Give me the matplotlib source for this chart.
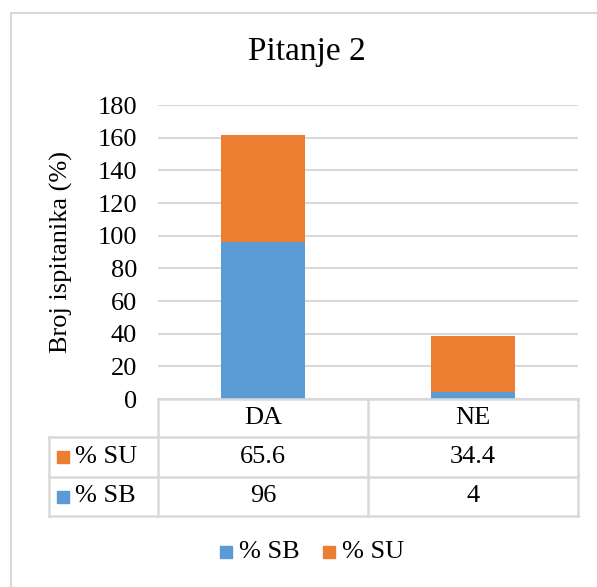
import matplotlib.pyplot as plt
import matplotlib.transforms as mtransforms
from matplotlib.lines import Line2D
from matplotlib.patches import Rectangle

categories = ["DA", "NE"]
series_names = ["% SB", "% SU"]
sb_values = [96, 4]
su_values = [65.6, 34.4]
sb_labels = ["96", "4"]
su_labels = ["65.6", "34.4"]
yticks = [0, 20, 40, 60, 80, 100, 120, 140, 160, 180]

blue = "#5B9BD5"
orange = "#ED7D31"
grid_col = "#D9D9D9"

W, H = 597, 587
plt.rcParams["font.family"] = ["Liberation Serif", "DejaVu Serif"]

fig = plt.figure(figsize=(W / 100, H / 100), dpi=100)


def fy(y):
    # pixel from top -> figure fraction
    return 1 - y / H


def fx(x):
    return x / W


# outer chart border (only left and top visible)
fig.add_artist(Line2D([fx(11), fx(11)], [fy(13), 0], color=grid_col, lw=1.5))
fig.add_artist(Line2D([fx(11), 1], [fy(13), fy(13)], color=grid_col, lw=1.5))

ax = fig.add_axes([fx(158), fy(399), fx(578) - fx(158), fy(105) - fy(399)])
x = range(len(categories))
ax.bar(x, sb_values, width=0.4, color=blue, zorder=3)
ax.bar(x, su_values, width=0.4, bottom=sb_values, color=orange, zorder=3)
ax.set_xlim(-0.5, len(categories) - 0.5)
ax.set_ylim(0, 180)
ax.set_yticks(yticks)
ax.tick_params(axis="y", length=0, labelsize=19, pad=15)
ax.set_xticks([])
ax.grid(axis="y", color=grid_col, lw=1.5, zorder=0)
for s in ax.spines.values():
    s.set_visible(False)
ax.set_ylabel("Broj ispitanika (%)", fontsize=19)
ax.yaxis.set_label_coords(-0.202, 0.5)

fig.text(fx(307), fy(52), "Pitanje 2", ha="center", va="center", fontsize=24)

# data table
trans = mtransforms.blended_transform_factory(ax.transData, fig.transFigure)
x_left = -0.5
x_right = len(categories) - 0.5
label_left = fx(49)
rows_y = [fy(399), fy(437), fy(477), fy(516)]
lw_t = 1.8

# horizontal lines
fig.add_artist(Line2D([x_left, x_right], [rows_y[0], rows_y[0]], transform=trans, color=grid_col, lw=lw_t))
for yy in rows_y[1:]:
    fig.add_artist(Line2D([label_left, fx(578)], [yy, yy], color=grid_col, lw=lw_t))
# vertical lines
fig.add_artist(Line2D([label_left, label_left], [rows_y[1], rows_y[3]], color=grid_col, lw=lw_t))
for i in range(len(categories) + 1):
    xv = i - 0.5
    fig.add_artist(Line2D([xv, xv], [rows_y[0], rows_y[3]], transform=trans, color=grid_col, lw=lw_t))

for i, cat in enumerate(categories):
    yc = (rows_y[0] + rows_y[1]) / 2
    fig.text(i, yc, cat, transform=trans, ha="center", va="center", fontsize=19)
    fig.text(i, (rows_y[1] + rows_y[2]) / 2, su_labels[i], transform=trans,
             ha="center", va="center", fontsize=19)
    fig.text(i, (rows_y[2] + rows_y[3]) / 2, sb_labels[i], transform=trans,
             ha="center", va="center", fontsize=19)

sq_w = 12 / W
sq_h = 12 / H
for name, col, r in [(series_names[1], orange, 1), (series_names[0], blue, 2)]:
    yc = (rows_y[r] + rows_y[r + 1]) / 2
    fig.add_artist(Rectangle((fx(57), yc - sq_h / 2), sq_w, sq_h, color=col))
    fig.text(fx(75), yc, name, ha="left", va="center", fontsize=19)

# legend
ly = fy(552)
for name, col, xs in [(series_names[0], blue, 220), (series_names[1], orange, 323)]:
    fig.add_artist(Rectangle((fx(xs), ly - sq_h / 2), sq_w, sq_h, color=col))
    fig.text(fx(xs + 19), ly, name, ha="left", va="center", fontsize=19)

fig.savefig("out.png", dpi=100)
